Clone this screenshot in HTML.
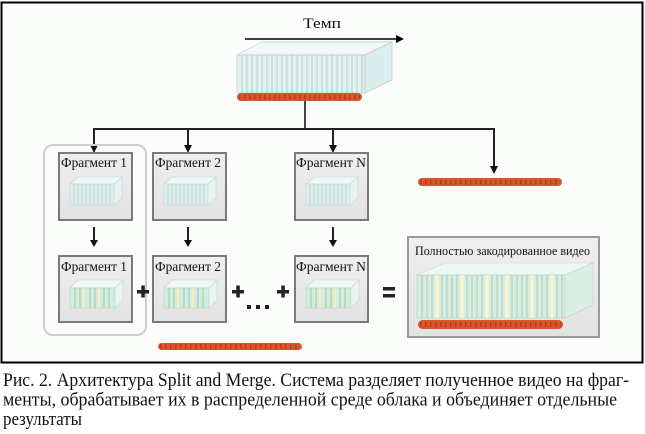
<!DOCTYPE html>
<html><head><meta charset="utf-8"><style>
html,body{margin:0;padding:0;background:#fff;width:645px;height:434px;overflow:hidden}
svg{display:block}
</style></head><body>
<svg width="645" height="434" viewBox="0 0 645 434" xmlns="http://www.w3.org/2000/svg" font-family="Liberation Serif, serif">
<defs>
<linearGradient id="gbox" x1="0" y1="0" x2="0" y2="1"><stop offset="0" stop-color="#efefef"/><stop offset="1" stop-color="#e2e2e2"/></linearGradient>
</defs>
<rect x="1.5" y="2.5" width="641" height="360" fill="#fbfdfb" stroke="#000" stroke-width="2"/>
<!-- Темп -->
<text x="303" y="28" font-size="15" fill="#111" textLength="38" lengthAdjust="spacingAndGlyphs">Темп</text>
<line x1="245" y1="39" x2="398" y2="39" stroke="#000" stroke-width="1.5"/>
<polygon points="396,35 404,39 396,43" fill="#000"/>
<!-- top stack -->
<polygon points="237,55 262,42 392,42 365,55" fill="#f2f8f8" stroke="#b9cccc" stroke-width="0.7"/>
<rect x="237" y="55" width="128" height="38" fill="#e3f1f1" stroke="#b9cccc" stroke-width="0.7"/>
<polygon points="365,55 392,42 392,80 365,93" fill="#dbeeee" stroke="#b9cccc" stroke-width="0.7"/>
<g stroke="#a9c2c2" stroke-width="0.8">
<line x1="242" y1="55" x2="242" y2="93"/><line x1="247" y1="55" x2="247" y2="93"/><line x1="252" y1="55" x2="252" y2="93"/><line x1="257" y1="55" x2="257" y2="93"/><line x1="262" y1="55" x2="262" y2="93"/><line x1="267" y1="55" x2="267" y2="93"/><line x1="272" y1="55" x2="272" y2="93"/><line x1="277" y1="55" x2="277" y2="93"/><line x1="282" y1="55" x2="282" y2="93"/><line x1="287" y1="55" x2="287" y2="93"/><line x1="292" y1="55" x2="292" y2="93"/><line x1="297" y1="55" x2="297" y2="93"/><line x1="302" y1="55" x2="302" y2="93"/><line x1="307" y1="55" x2="307" y2="93"/><line x1="312" y1="55" x2="312" y2="93"/><line x1="317" y1="55" x2="317" y2="93"/><line x1="322" y1="55" x2="322" y2="93"/><line x1="327" y1="55" x2="327" y2="93"/><line x1="332" y1="55" x2="332" y2="93"/><line x1="337" y1="55" x2="337" y2="93"/><line x1="342" y1="55" x2="342" y2="93"/><line x1="347" y1="55" x2="347" y2="93"/><line x1="352" y1="55" x2="352" y2="93"/><line x1="357" y1="55" x2="357" y2="93"/><line x1="362" y1="55" x2="362" y2="93"/>
</g>
<!-- top beads -->
<rect x="237" y="93" width="125" height="8" rx="4" fill="#d9552c"/>
<line x1="239" y1="97" x2="360" y2="97" stroke="#9e2f10" stroke-width="5" stroke-dasharray="1.5 3.5" opacity="0.6"/>
<!-- connectors -->
<line x1="305" y1="101" x2="305" y2="129" stroke="#444" stroke-width="2"/>
<polyline points="94,148 94,129 494,129 494,168" fill="none" stroke="#222" stroke-width="2"/>
<polygon points="90,145 94,153 98,145" fill="#111"/>
<line x1="188" y1="129" x2="188" y2="148" stroke="#222" stroke-width="2"/>
<polygon points="184,145 188,153 192,145" fill="#111"/>
<line x1="333" y1="129" x2="333" y2="148" stroke="#222" stroke-width="2"/>
<polygon points="329,145 333,153 337,145" fill="#111"/>
<polygon points="490,166 494,174 498,166" fill="#111"/>
<!-- right beads -->
<rect x="418" y="178" width="144" height="8" rx="4" fill="#d9552c"/>
<line x1="420" y1="182" x2="560" y2="182" stroke="#9e2f10" stroke-width="5" stroke-dasharray="1.5 3.5" opacity="0.6"/>
<!-- group rounded rect -->
<rect x="44" y="145" width="102" height="190" rx="9" fill="none" stroke="#cfcfcf" stroke-width="2"/>
<!-- top fragment boxes -->
<g>
<rect x="59" y="153" width="73" height="67" fill="url(#gbox)" stroke="#7a7a7a" stroke-width="2"/>
<text x="61" y="167" font-size="13.5" fill="#111" textLength="66" lengthAdjust="spacingAndGlyphs">Фрагмент 1</text>
<polygon points="70,184 78,177 122,177 114,184" fill="#eef7f6" stroke="#c3d6d6" stroke-width="0.6"/>
<rect x="70" y="184" width="44" height="21" fill="#dcefee" stroke="#c3d6d6" stroke-width="0.6"/>
<polygon points="114,184 122,177 122,198 114,205" fill="#e6f3f3" stroke="#c3d6d6" stroke-width="0.6"/>
<path d="M74 184v21M78 184v21M82 184v21M86 184v21M90 184v21M94 184v21M98 184v21M102 184v21M106 184v21M110 184v21" stroke="#b3cccc" stroke-width="0.8"/>
</g>
<g transform="translate(94,0)">
<rect x="59" y="153" width="73" height="67" fill="url(#gbox)" stroke="#7a7a7a" stroke-width="2"/>
<text x="61" y="167" font-size="13.5" fill="#111" textLength="66" lengthAdjust="spacingAndGlyphs">Фрагмент 2</text>
<polygon points="70,184 78,177 122,177 114,184" fill="#eef7f6" stroke="#c3d6d6" stroke-width="0.6"/>
<rect x="70" y="184" width="44" height="21" fill="#dcefee" stroke="#c3d6d6" stroke-width="0.6"/>
<polygon points="114,184 122,177 122,198 114,205" fill="#e6f3f3" stroke="#c3d6d6" stroke-width="0.6"/>
<path d="M74 184v21M78 184v21M82 184v21M86 184v21M90 184v21M94 184v21M98 184v21M102 184v21M106 184v21M110 184v21" stroke="#b3cccc" stroke-width="0.8"/>
</g>
<g transform="translate(236,0)">
<rect x="59" y="153" width="73" height="67" fill="url(#gbox)" stroke="#7a7a7a" stroke-width="2"/>
<text x="60" y="167" font-size="13.5" fill="#111" textLength="70" lengthAdjust="spacingAndGlyphs">Фрагмент N</text>
<polygon points="70,184 78,177 122,177 114,184" fill="#eef7f6" stroke="#c3d6d6" stroke-width="0.6"/>
<rect x="70" y="184" width="44" height="21" fill="#dcefee" stroke="#c3d6d6" stroke-width="0.6"/>
<polygon points="114,184 122,177 122,198 114,205" fill="#e6f3f3" stroke="#c3d6d6" stroke-width="0.6"/>
<path d="M74 184v21M78 184v21M82 184v21M86 184v21M90 184v21M94 184v21M98 184v21M102 184v21M106 184v21M110 184v21" stroke="#b3cccc" stroke-width="0.8"/>
</g>
<!-- middle arrows -->
<g stroke="#222" stroke-width="2">
<line x1="94" y1="227" x2="94" y2="242"/><line x1="188" y1="227" x2="188" y2="242"/><line x1="333" y1="227" x2="333" y2="242"/>
</g>
<g fill="#111">
<polygon points="90,240 94,247 98,240"/><polygon points="184,240 188,247 192,240"/><polygon points="329,240 333,247 337,240"/>
</g>
<!-- bottom fragment boxes -->
<g>
<rect x="59" y="256" width="73" height="66" fill="url(#gbox)" stroke="#7a7a7a" stroke-width="2"/>
<text x="61" y="271" font-size="13.5" fill="#111" textLength="66" lengthAdjust="spacingAndGlyphs">Фрагмент 1</text>
<polygon points="70,288 78,280 123,280 115,288" fill="#eef7f2" stroke="#c3d6d0" stroke-width="0.6"/>
<rect x="70" y="288" width="45" height="20" fill="#d3ecdc" stroke="#bcd3c8" stroke-width="0.6"/>
<polygon points="115,288 123,280 123,300 115,308" fill="#e8f4f3" stroke="#c3d6d6" stroke-width="0.6"/>
<path d="M75 288v20M80 288v20M90 288v20M95 288v20M104 288v20M109 288v20" stroke="#9fc8b0" stroke-width="1"/>
<path d="M84 288v20M99 288v20" stroke="#f5efc0" stroke-width="2"/>
</g>
<g transform="translate(94,0)">
<rect x="59" y="256" width="73" height="66" fill="url(#gbox)" stroke="#7a7a7a" stroke-width="2"/>
<text x="61" y="271" font-size="13.5" fill="#111" textLength="66" lengthAdjust="spacingAndGlyphs">Фрагмент 2</text>
<polygon points="70,288 78,280 123,280 115,288" fill="#eef7f2" stroke="#c3d6d0" stroke-width="0.6"/>
<rect x="70" y="288" width="45" height="20" fill="#d3ecdc" stroke="#bcd3c8" stroke-width="0.6"/>
<polygon points="115,288 123,280 123,300 115,308" fill="#e8f4f3" stroke="#c3d6d6" stroke-width="0.6"/>
<path d="M75 288v20M80 288v20M90 288v20M95 288v20M104 288v20M109 288v20" stroke="#9fc8b0" stroke-width="1"/>
<path d="M84 288v20M99 288v20" stroke="#f5efc0" stroke-width="2"/>
</g>
<g transform="translate(236,0)">
<rect x="59" y="256" width="73" height="66" fill="url(#gbox)" stroke="#7a7a7a" stroke-width="2"/>
<text x="60" y="271" font-size="13.5" fill="#111" textLength="70" lengthAdjust="spacingAndGlyphs">Фрагмент N</text>
<polygon points="70,288 78,280 123,280 115,288" fill="#eef7f2" stroke="#c3d6d0" stroke-width="0.6"/>
<rect x="70" y="288" width="45" height="20" fill="#d3ecdc" stroke="#bcd3c8" stroke-width="0.6"/>
<polygon points="115,288 123,280 123,300 115,308" fill="#e8f4f3" stroke="#c3d6d6" stroke-width="0.6"/>
<path d="M75 288v20M80 288v20M90 288v20M95 288v20M104 288v20M109 288v20" stroke="#9fc8b0" stroke-width="1"/>
<path d="M84 288v20M99 288v20" stroke="#f5efc0" stroke-width="2"/>
</g>
<!-- plus / dots / equals -->
<g fill="#222">
<rect x="137" y="290" width="12" height="3.5"/><rect x="141.3" y="285.5" width="3.5" height="12"/>
<rect x="232" y="290" width="12" height="3.5"/><rect x="236.3" y="285.5" width="3.5" height="12"/>
<rect x="277" y="290" width="12" height="3.5"/><rect x="281.3" y="285.5" width="3.5" height="12"/>
<rect x="247" y="305" width="4" height="4"/><rect x="256" y="305" width="4" height="4"/><rect x="265" y="305" width="4" height="4"/>
<rect x="383" y="287" width="12" height="3.5"/><rect x="383" y="294" width="12" height="3.5"/>
</g>
<!-- red bar bottom -->
<rect x="158" y="343" width="144" height="7" rx="3.5" fill="#d9552c"/>
<line x1="160" y1="346.5" x2="300" y2="346.5" stroke="#9e2f10" stroke-width="5" stroke-dasharray="1.5 3.5" opacity="0.6"/>
<!-- big box -->
<rect x="408" y="237" width="191" height="100" fill="url(#gbox)" stroke="#9a9a9a" stroke-width="2"/>
<text x="415" y="255" font-size="12.5" fill="#111" textLength="175" lengthAdjust="spacingAndGlyphs">Полностью закодированное видео</text>
<polygon points="417,275 445,263 593,263 565,275" fill="#eef7f2" stroke="#c3d6d0" stroke-width="0.6"/>
<rect x="417" y="275" width="148" height="43" fill="#d6ede0" stroke="#bcd3c8" stroke-width="0.6"/>
<polygon points="565,275 593,263 593,305 565,318" fill="#d9eee4" stroke="#bcd3c8" stroke-width="0.6"/>
<path d="M422 275v43M427 275v43M432 275v43M442 275v43M447 275v43M452 275v43M457 275v43M467 275v43M472 275v43M477 275v43M482 275v43M492 275v43M497 275v43M502 275v43M512 275v43M517 275v43M522 275v43M527 275v43M537 275v43M542 275v43M547 275v43M557 275v43M562 275v43" stroke="#a8cdb8" stroke-width="1"/>
<path d="M437 275v43M462 275v43M487 275v43M507 275v43M532 275v43M552 275v43" stroke="#fbf6d2" stroke-width="3"/>
<rect x="418" y="320" width="145" height="9" rx="4.5" fill="#d9552c"/>
<line x1="420" y1="324.5" x2="561" y2="324.5" stroke="#9e2f10" stroke-width="5" stroke-dasharray="1.5 3.5" opacity="0.6"/>
<!-- caption -->
<g font-size="18.5" fill="#111">
<text x="3" y="386" textLength="626" lengthAdjust="spacingAndGlyphs">Рис. 2. Архитектура Split and Merge. Система разделяет полученное видео на фраг-</text>
<text x="3" y="405.5" textLength="614" lengthAdjust="spacingAndGlyphs">менты, обрабатывает их в распределенной среде облака и объединяет отдельные</text>
<text x="3" y="425" textLength="79" lengthAdjust="spacingAndGlyphs">результаты</text>
</g>
</svg>
</body></html>
